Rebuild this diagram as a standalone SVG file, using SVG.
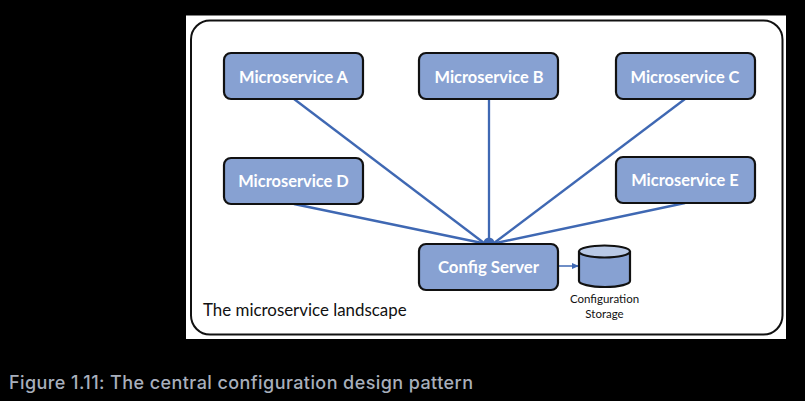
<svg xmlns="http://www.w3.org/2000/svg" width="805" height="401" viewBox="0 0 805 401">
<style>
.n{fill:#87a1d2;stroke:#111;stroke-width:2.2}
.t{font-family:Lato,"Noto Sans",sans-serif;font-size:16.400px;font-weight:700;fill:#fff;text-anchor:middle}
.c{stroke:#3f68b3;stroke-width:2.300;fill:none}
.s{font-family:Lato,"Noto Sans",sans-serif;font-size:11.500px;fill:#111;text-anchor:middle}
</style>
<defs><marker id="a" markerWidth="7" markerHeight="6" refX="6" refY="3" orient="auto" markerUnits="userSpaceOnUse"><path d="M0 0L7 3L0 6Z" fill="#3f68b3"/></marker></defs>
<rect width="805" height="401" fill="#000"/>
<rect x="186" y="15.500" width="600" height="323.500" fill="#fff"/>
<rect id="landscape" x="191" y="20.500" width="591.500" height="314" rx="19" fill="#fff" stroke="#111" stroke-width="2"/>
<g id="connectors">
<path class="c" d="M294 99L484 243"/>
<path class="c" d="M489 99L489 243"/>
<path class="c" d="M685 99L494 243"/>
<path class="c" d="M294 204L482 243"/>
<path class="c" d="M685 203L496 243"/>
<circle cx="489" cy="243" r="5.500" fill="#3f68b3"/>
<path class="c" style="stroke-width:1.500" d="M558 266L578 266" marker-end="url(#a)"/>
</g>
<g id="msA"><rect class="n" x="224" y="53" width="139" height="46" rx="7"/><text class="t" x="293.500" y="82.500">Microservice A</text></g>
<g id="msB"><rect class="n" x="419" y="53" width="139" height="46" rx="7"/><text class="t" x="489" y="82.500">Microservice B</text></g>
<g id="msC"><rect class="n" x="616" y="53" width="139" height="46" rx="7"/><text class="t" x="685" y="82.500">Microservice C</text></g>
<g id="msD"><rect class="n" x="224" y="158" width="139" height="46" rx="7"/><text class="t" x="293.500" y="187">Microservice D</text></g>
<g id="msE"><rect class="n" x="616" y="157" width="139" height="46" rx="7"/><text class="t" x="685" y="186">Microservice E</text></g>
<g id="config"><rect class="n" x="419" y="244" width="139" height="46" rx="7"/><text class="t" x="488.500" y="272.500" style="font-size:16.800px">Config Server</text></g>
<g id="storage">
<path class="n" d="M579 251V281C579 284 590 287 605 287C620 287 630 284 630 281V251"/>
<ellipse class="n" cx="604.500" cy="251.500" rx="25.500" ry="6" style="fill:#b9c9e6"/>
<text class="s" x="604.500" y="303">Configuration</text>
<text class="s" x="604.500" y="318">Storage</text>
</g>
<text x="203" y="316" font-family="Lato,'Noto Sans',sans-serif" font-size="16.900" fill="#111">The microservice landscape</text>
<text x="9" y="389" font-family="Inter,'Noto Sans',sans-serif" font-size="18" font-weight="500" fill="#a8afbc" letter-spacing="0.420">Figure 1.11: The central configuration design pattern</text>
</svg>
